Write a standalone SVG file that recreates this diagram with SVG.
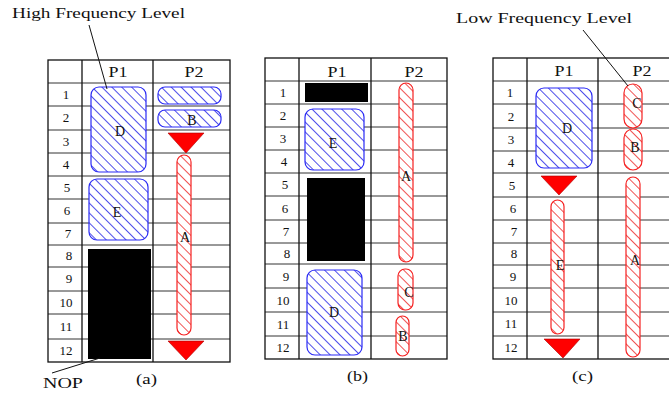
<svg xmlns="http://www.w3.org/2000/svg" width="669" height="393" viewBox="0 0 669 393">
<defs>
<pattern id="hb" width="7" height="7" patternUnits="userSpaceOnUse" patternTransform="rotate(45)">
<rect width="7" height="7" fill="#fff"/>
<line x1="0" y1="3.5" x2="7" y2="3.5" stroke="#3a3ae8" stroke-width="0.9"/>
</pattern>
<pattern id="hr" width="7" height="7" patternUnits="userSpaceOnUse" patternTransform="rotate(45)">
<rect width="7" height="7" fill="#fff"/>
<line x1="0" y1="3.5" x2="7" y2="3.5" stroke="#ee4040" stroke-width="0.9"/>
</pattern>
</defs>
<style>
text{font-family:"Liberation Serif","Times New Roman",serif;fill:#111}
.t{font-size:14px}
.n{font-size:13px;text-anchor:middle}
.h{font-size:14px;text-anchor:middle}
.l{font-size:14px;text-anchor:middle}
.grid line{stroke:#333;stroke-width:1}
.frame{fill:none;stroke:#111;stroke-width:1.3}
.col{stroke:#111;stroke-width:1.3}
.blue{fill:url(#hb);stroke:#2a2af5;stroke-width:1.2}
.red{fill:url(#hr);stroke:#f52020;stroke-width:1.2}
.nop{fill:#000}
.tri{fill:#f00;stroke:#a00;stroke-width:0.6}
.lead{stroke:#111;stroke-width:1;fill:none}
</style>

<!-- Table (a) -->
<g id="table-a">
<g class="grid">
<line x1="48" y1="83" x2="230" y2="83"/>
<line x1="48" y1="106" x2="230" y2="106"/>
<line x1="48" y1="130" x2="230" y2="130"/>
<line x1="48" y1="153" x2="230" y2="153"/>
<line x1="48" y1="176" x2="230" y2="176"/>
<line x1="48" y1="199" x2="230" y2="199"/>
<line x1="48" y1="223" x2="230" y2="223"/>
<line x1="48" y1="245" x2="230" y2="245"/>
<line x1="48" y1="267" x2="230" y2="267"/>
<line x1="48" y1="291" x2="230" y2="291"/>
<line x1="48" y1="314" x2="230" y2="314"/>
<line x1="48" y1="339" x2="230" y2="339"/>
</g>
<line class="col" x1="82" y1="60" x2="82" y2="362"/>
<line class="col" x1="153" y1="60" x2="153" y2="362"/>
<rect class="frame" x="48" y="60" width="182" height="302"/>
<text class="h" x="118" y="77" textLength="19" lengthAdjust="spacingAndGlyphs">P1</text>
<text class="h" x="194" y="77" textLength="19" lengthAdjust="spacingAndGlyphs">P2</text>
<text class="n" x="66" y="99">1</text>
<text class="n" x="66" y="122">2</text>
<text class="n" x="66" y="146">3</text>
<text class="n" x="66" y="169">4</text>
<text class="n" x="67" y="192">5</text>
<text class="n" x="67" y="215">6</text>
<text class="n" x="68" y="238">7</text>
<text class="n" x="69" y="260">8</text>
<text class="n" x="69" y="283">9</text>
<text class="n" x="66" y="307">10</text>
<text class="n" x="66" y="331">11</text>
<text class="n" x="66" y="355">12</text>
</g>

<!-- Table (b) -->
<g id="table-b">
<g class="grid">
<line x1="265" y1="81" x2="447" y2="81"/>
<line x1="265" y1="104" x2="447" y2="104"/>
<line x1="265" y1="127" x2="447" y2="127"/>
<line x1="265" y1="150" x2="447" y2="150"/>
<line x1="265" y1="173" x2="447" y2="173"/>
<line x1="265" y1="196" x2="447" y2="196"/>
<line x1="265" y1="220" x2="447" y2="220"/>
<line x1="265" y1="243" x2="447" y2="243"/>
<line x1="265" y1="264" x2="447" y2="264"/>
<line x1="265" y1="288" x2="447" y2="288"/>
<line x1="265" y1="312" x2="447" y2="312"/>
<line x1="265" y1="336" x2="447" y2="336"/>
</g>
<line class="col" x1="299" y1="58" x2="299" y2="359"/>
<line class="col" x1="371" y1="58" x2="371" y2="359"/>
<rect class="frame" x="265" y="58" width="182" height="301"/>
<text class="h" x="337" y="77" textLength="19" lengthAdjust="spacingAndGlyphs">P1</text>
<text class="h" x="414" y="77" textLength="19" lengthAdjust="spacingAndGlyphs">P2</text>
<text class="n" x="283" y="97">1</text>
<text class="n" x="283" y="120">2</text>
<text class="n" x="283" y="143">3</text>
<text class="n" x="284" y="166">4</text>
<text class="n" x="285" y="189">5</text>
<text class="n" x="285" y="213">6</text>
<text class="n" x="286" y="236">7</text>
<text class="n" x="287" y="258">8</text>
<text class="n" x="286" y="281">9</text>
<text class="n" x="283" y="305">10</text>
<text class="n" x="283" y="329">11</text>
<text class="n" x="283" y="352">12</text>
</g>

<!-- Table (c) -->
<g id="table-c">
<g class="grid">
<line x1="493" y1="81" x2="676" y2="81"/>
<line x1="493" y1="104" x2="676" y2="104"/>
<line x1="493" y1="128" x2="676" y2="128"/>
<line x1="493" y1="151" x2="676" y2="151"/>
<line x1="493" y1="173" x2="676" y2="173"/>
<line x1="493" y1="197" x2="676" y2="197"/>
<line x1="493" y1="220" x2="676" y2="220"/>
<line x1="493" y1="243" x2="676" y2="243"/>
<line x1="493" y1="265" x2="676" y2="265"/>
<line x1="493" y1="288" x2="676" y2="288"/>
<line x1="493" y1="312" x2="676" y2="312"/>
<line x1="493" y1="336" x2="676" y2="336"/>
</g>
<line class="col" x1="527" y1="58" x2="527" y2="359"/>
<line class="col" x1="598" y1="58" x2="598" y2="359"/>
<rect class="frame" x="493" y="58" width="183" height="301"/>
<text class="h" x="564" y="76" textLength="19" lengthAdjust="spacingAndGlyphs">P1</text>
<text class="h" x="642" y="76" textLength="19" lengthAdjust="spacingAndGlyphs">P2</text>
<text class="n" x="510" y="97">1</text>
<text class="n" x="511" y="121">2</text>
<text class="n" x="511" y="144">3</text>
<text class="n" x="511" y="167">4</text>
<text class="n" x="512" y="190">5</text>
<text class="n" x="513" y="213">6</text>
<text class="n" x="514" y="236">7</text>
<text class="n" x="514" y="258">8</text>
<text class="n" x="513" y="281">9</text>
<text class="n" x="511" y="305">10</text>
<text class="n" x="511" y="328">11</text>
<text class="n" x="511" y="352">12</text>
</g>

<!-- Nodes (a) -->
<g id="a-D"><rect class="blue" x="91" y="87" width="55" height="85" rx="8"/><text class="l" x="120" y="136">D</text></g>
<g id="a-E"><rect class="blue" x="89" y="179" width="59" height="61" rx="8"/><text class="l" x="117" y="217">E</text></g>
<g id="a-top"><rect class="blue" x="158" y="87" width="63" height="17" rx="7"/></g>
<g id="a-B"><rect class="blue" x="158" y="110" width="63" height="17" rx="7"/><text class="l" x="192" y="125">B</text></g>
<g id="a-tri1"><polygon class="tri" points="168,133 204,133 186,153"/></g>
<g id="a-A"><rect class="red" x="177" y="155" width="14" height="180" rx="7"/><text class="l" x="185" y="242">A</text></g>
<g id="a-NOP"><rect class="nop" x="88" y="249" width="63" height="110"/></g>
<g id="a-tri2"><polygon class="tri" points="168,341 204,341 186,360"/></g>

<!-- Nodes (b) -->
<g id="b-nop1"><rect class="nop" x="305" y="83" width="63" height="19"/></g>
<g id="b-E"><rect class="blue" x="305" y="109" width="59" height="61" rx="8"/><text class="l" x="333" y="148">E</text></g>
<g id="b-nop2"><rect class="nop" x="307" y="178" width="58" height="83"/></g>
<g id="b-D"><rect class="blue" x="307" y="270" width="55" height="85" rx="8"/><text class="l" x="334" y="317">D</text></g>
<g id="b-A"><rect class="red" x="399" y="83" width="14" height="179" rx="7"/><text class="l" x="406" y="181">A</text></g>
<g id="b-C"><rect class="red" x="398" y="269" width="15" height="41" rx="7"/><text class="l" x="409" y="297">C</text></g>
<g id="b-B"><rect class="red" x="396" y="316" width="13" height="40" rx="6.5"/><text class="l" x="403" y="341">B</text></g>

<!-- Nodes (c) -->
<g id="c-D"><rect class="blue" x="536" y="88" width="56" height="80" rx="8"/><text class="l" x="567" y="133">D</text></g>
<g id="c-C"><rect class="red" x="624" y="84" width="18" height="44" rx="9"/><text class="l" x="637" y="108">C</text></g>
<g id="c-B"><rect class="red" x="624" y="129" width="18" height="41" rx="9"/><text class="l" x="635" y="152">B</text></g>
<g id="c-tri1"><polygon class="tri" points="541,176 577,176 559,195"/></g>
<g id="c-E"><rect class="red" x="551" y="200" width="13" height="134" rx="6.5"/><text class="l" x="560" y="270">E</text></g>
<g id="c-A"><rect class="red" x="626" y="177" width="14" height="180" rx="7"/><text class="l" x="635" y="265">A</text></g>
<g id="c-tri2"><polygon class="tri" points="544,339 580,339 563,358"/></g>

<!-- Connectors (leader lines) -->
<g id="connectors">
<line class="lead" x1="89" y1="25" x2="107" y2="89"/>
<line class="lead" x1="583" y1="30" x2="628" y2="86"/>
<line class="lead" x1="100" y1="358" x2="52" y2="373"/>
</g>

<!-- Labels -->
<text class="t" x="12" y="18" textLength="173" lengthAdjust="spacingAndGlyphs">High Frequency Level</text>
<text class="t" x="456" y="23" textLength="176" lengthAdjust="spacingAndGlyphs">Low Frequency Level</text>
<text class="t" x="43" y="388" textLength="40" lengthAdjust="spacingAndGlyphs">NOP</text>
<text class="t" x="136" y="384" textLength="21" lengthAdjust="spacingAndGlyphs">(a)</text>
<text class="t" x="347" y="381" textLength="21" lengthAdjust="spacingAndGlyphs">(b)</text>
<text class="t" x="572" y="381" textLength="21" lengthAdjust="spacingAndGlyphs">(c)</text>
</svg>
